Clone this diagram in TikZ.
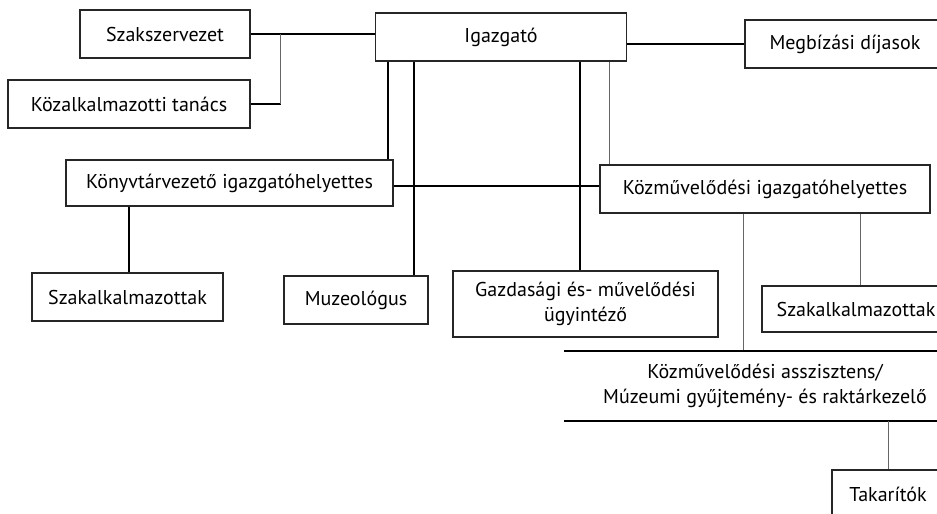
\documentclass[tikz,border=0pt]{standalone}
\usepackage{fontspec}
\setmainfont{PT Sans}
\begin{document}
\begin{tikzpicture}[x=1pt,y=-1pt,line width=2pt,
    box/.style={draw=black!85,line width=1.6pt,inner sep=0pt,minimum height=48pt,
      align=center,font=\fontsize{20}{25}\selectfont},
    thin/.style={line width=0.9pt,black!60}]
  \useasboundingbox (0,0) rectangle (937,514);
  \clip (0,0) rectangle (937,514);
  \node[box,minimum width=170pt] (szak) at (165,34) {Szakszervezet};
  \node[box,minimum width=242pt] (kozalk) at (129,104) {Közalkalmazotti tanács};
  \node[box,minimum width=251pt] (igazgato) at (501,37) {Igazgató};
  \node[box,minimum width=200pt] (megbiz) at (845,44) {Megbízási díjasok};
  \node[box,minimum width=327pt,minimum height=46pt] (konyvtar) at (229.5,183) {Könyvtárvezető igazgatóhelyettes};
  \node[box,minimum width=330pt] (kozmuv) at (765,189) {Közművelődési igazgatóhelyettes};
  \node[box,minimum width=191pt] (szakalk1) at (127.5,297) {Szakalkalmazottak};
  \node[box,minimum width=144pt] (muzeo) at (356,300) {Muzeológus};
  \node[box,minimum width=265pt,minimum height=66pt] (gazd) at (585.5,304) {Gazdasági és- művelődési\\ügyintéző};
  \node[box,minimum width=188pt,minimum height=46pt] (szakalk2) at (856,309) {Szakalkalmazottak};
  \node[box,draw=none,minimum width=400pt,minimum height=68pt] (asszisztens) at (765,386)
    {Közművelődési asszisztens/\\Múzeumi gyűjtemény- és raktárkezelő};
  \node[box,minimum width=112pt] (takarito) at (888,494) {Takarítók};

  \draw (szak.east) -- (szak.east -| igazgato.west);
  \draw (kozalk.east) -- ++(30,0) coordinate (k1);
  \draw[thin] (k1) -- (k1 |- szak.east);
  \draw (megbiz.west -| igazgato.east) -- (megbiz.west);
  \draw[line width=1.5pt] (igazgato.south -| 388,0) -- (konyvtar.north -| 388,0);
  \draw (igazgato.south -| 414,0) -- (muzeo.north -| 414,0);
  \draw (igazgato.south -| 580,0) -- (gazd.north -| 580,0);
  \draw[thin] (igazgato.south -| 609,0) -- (kozmuv.north -| 609,0);
  \draw (konyvtar.east |- 0,186) -- (kozmuv.west |- 0,186);
  \draw[line width=1.5pt] (konyvtar.south -| 129,0) -- (szakalk1.north -| 129,0);
  \draw[thin] (kozmuv.south -| 743,0) -- (asszisztens.north -| 743,0);
  \draw[thin] (kozmuv.south -| 860,0) -- (szakalk2.north -| 860,0);
  \draw (asszisztens.north west) -- (asszisztens.north east);
  \draw (asszisztens.south west) -- (asszisztens.south east);
  \draw[thin] (asszisztens.south -| takarito.north) -- (takarito.north);
\end{tikzpicture}
\end{document}
